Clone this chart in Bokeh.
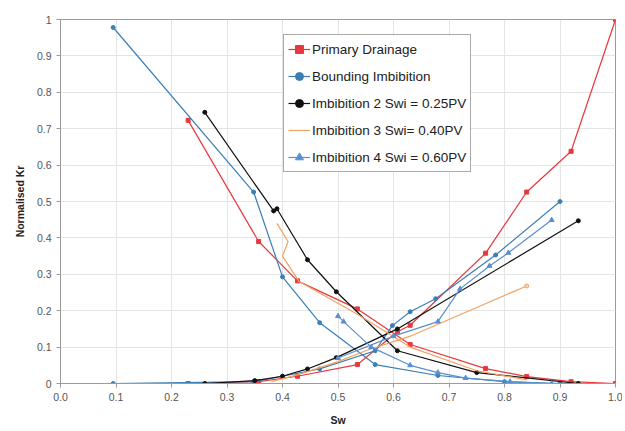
from bokeh.plotting import figure
from bokeh.models import Range1d, FixedTicker, Legend, LegendItem
from bokeh.embed import file_html
from bokeh.resources import INLINE

# Primary Drainage
pd_sw_o = [0.23, 0.357, 0.427, 0.535, 0.63, 0.766, 0.84, 0.92, 1.0]
pd_kro = [0.723, 0.39, 0.282, 0.205, 0.107, 0.041, 0.019, 0.005, 0.0]
pd_sw_w = [0.23, 0.357, 0.427, 0.535, 0.607, 0.63, 0.766, 0.84, 0.92, 1.0]
pd_krw = [0.0, 0.005, 0.02, 0.052, 0.142, 0.16, 0.358, 0.526, 0.638, 1.0]

# Bounding Imbibition
bi_sw_o = [0.095, 0.348, 0.4, 0.467, 0.567, 0.68, 0.8, 0.9]
bi_kro = [0.978, 0.526, 0.293, 0.167, 0.052, 0.022, 0.005, 0.0]
bi_sw_w = [0.095, 0.348, 0.4, 0.467, 0.567, 0.598, 0.63, 0.676, 0.784, 0.9]
bi_krw = [0.0, 0.005, 0.02, 0.04, 0.09, 0.159, 0.197, 0.233, 0.353, 0.5]

# Imbibition 2 Swi = 0.25PV
i2_sw_o = [0.26, 0.384, 0.39, 0.445, 0.497, 0.607, 0.75, 0.933]
i2_kro = [0.745, 0.474, 0.48, 0.34, 0.252, 0.09, 0.03, 0.0]
i2_sw_w = [0.26, 0.35, 0.4, 0.445, 0.497, 0.607, 0.933]
i2_krw = [0.0, 0.008, 0.02, 0.04, 0.071, 0.15, 0.447]

# Imbibition 3 Swi = 0.40PV
i3_sw_o = [0.39, 0.41, 0.40, 0.43, 0.535, 0.63, 0.75, 0.84]
i3_kro = [0.44, 0.39, 0.35, 0.28, 0.19, 0.10, 0.035, 0.01]
i3_sw_w = [0.38, 0.43, 0.5, 0.55, 0.63, 0.84]
i3_krw = [0.005, 0.025, 0.06, 0.09, 0.13, 0.268]

# Imbibition 4 Swi = 0.60PV
i4_sw_o = [0.5, 0.51, 0.56, 0.63, 0.68, 0.73, 0.81, 0.885]
i4_kro = [0.185, 0.17, 0.1, 0.05, 0.03, 0.015, 0.005, 0.0]
i4_sw_w = [0.5, 0.6, 0.68, 0.72, 0.773, 0.807, 0.885]
i4_krw = [0.07, 0.13, 0.17, 0.26, 0.323, 0.359, 0.449]

x_ticks = [0.0, 0.1, 0.2, 0.3, 0.4, 0.5, 0.6, 0.7, 0.8, 0.9, 1.0]
x_labels = ["0.0", "0.1", "0.2", "0.3", "0.4", "0.5", "0.6", "0.7", "0.8", "0.9", "1.0"]
y_ticks = [0.0, 0.1, 0.2, 0.3, 0.4, 0.5, 0.6, 0.7, 0.8, 0.9, 1.0]
y_labels = ["0", "0.1", "0.2", "0.3", "0.4", "0.5", "0.6", "0.7", "0.8", "0.9", "1"]

p = figure(width=622, height=428, output_backend="svg", toolbar_location=None,
           x_range=Range1d(0, 1), y_range=Range1d(0, 1),
           min_border_left=60, min_border_right=7, min_border_top=19, min_border_bottom=44)

p.outline_line_color = "#9a9a9a"
p.grid.grid_line_color = "#e4e4e4"
p.xaxis.ticker = FixedTicker(ticks=x_ticks)
p.yaxis.ticker = FixedTicker(ticks=y_ticks)
p.xaxis.major_label_overrides = {t: l for t, l in zip(x_ticks, x_labels)}
p.yaxis.major_label_overrides = {t: l for t, l in zip(y_ticks, y_labels)}
for ax in (p.xaxis, p.yaxis):
    ax.axis_line_color = "#9a9a9a"
    ax.major_tick_line_color = "#9a9a9a"
    ax.minor_tick_line_color = None
    ax.major_tick_out = 4
    ax.major_tick_in = 0
    ax.major_label_text_font = "Liberation Sans"
    ax.major_label_text_font_size = "10.5px"
    ax.major_label_text_color = "#555555"
    ax.axis_label_text_font = "Liberation Sans"
    ax.axis_label_text_font_size = "10.5px"
    ax.axis_label_text_font_style = "bold"
    ax.axis_label_text_color = "#222222"
p.xaxis.axis_label = "Sw"
p.yaxis.axis_label = "Normalised Kr"
p.xaxis.axis_label_standoff = 10
p.yaxis.axis_label_standoff = 8

red = "#e8383d"
blue = "#3a7fb5"
black = "#111111"
orange = "#f4a261"
lblue = "#5b8fd0"

def series(xs_o, ys_o, xs_w, ys_w, color, marker, size, lw=1.2):
    r = []
    r.append(p.line(xs_o, ys_o, line_color=color, line_width=lw))
    r.append(p.line(xs_w, ys_w, line_color=color, line_width=lw))
    m1 = p.scatter(xs_o, ys_o, marker=marker, size=size, fill_color=color, line_color=color)
    p.scatter(xs_w, ys_w, marker=marker, size=size, fill_color=color, line_color=color)
    return [r[0], m1]

r_pd = series(pd_sw_o, pd_kro, pd_sw_w, pd_krw, red, "square", 4)
r_bi = series(bi_sw_o, bi_kro, bi_sw_w, bi_krw, blue, "circle", 4)
r_i2 = series(i2_sw_o, i2_kro, i2_sw_w, i2_krw, black, "circle", 4)
r_i3 = [p.line(i3_sw_o, i3_kro, line_color=orange, line_width=1.2),
        p.line(i3_sw_w, i3_krw, line_color=orange, line_width=1.2)]
p.scatter(i3_sw_w[-1:], i3_krw[-1:], marker="circle", size=4, fill_color="#fbd3a8", line_color=orange)
r_i4 = series(i4_sw_o, i4_kro, i4_sw_w, i4_krw, lblue, "triangle", 5)

legend = Legend(items=[
    LegendItem(label="Primary Drainage", renderers=r_pd),
    LegendItem(label="Bounding Imbibition", renderers=r_bi),
    LegendItem(label="Imbibition 2 Swi = 0.25PV", renderers=r_i2),
    LegendItem(label="Imbibition 3 Swi= 0.40PV", renderers=[r_i3[0]]),
    LegendItem(label="Imbibition 4 Swi = 0.60PV", renderers=r_i4),
], location=(223, 211))
legend.label_text_font = "Liberation Sans"
legend.label_text_font_size = "13.5px"
legend.label_text_color = "#222222"
legend.border_line_color = "#555555"
legend.spacing = 7
legend.padding = 4
legend.margin = 0
legend.glyph_width = 22
legend.glyph_height = 20
legend.label_standoff = 2
p.add_layout(legend)

open("out.html", "w").write(file_html(p, INLINE))
